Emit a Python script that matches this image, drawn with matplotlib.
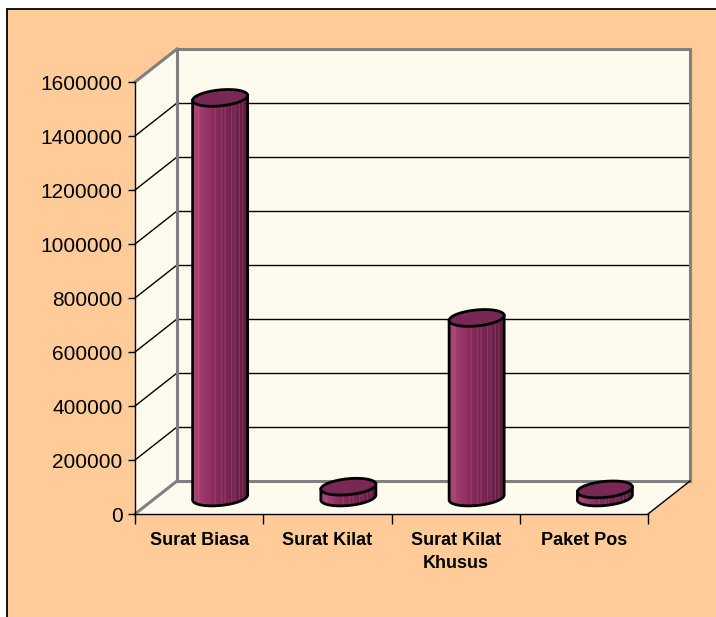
import numpy as np
import matplotlib
matplotlib.use("Agg")
import matplotlib.pyplot as plt
from matplotlib.patches import Polygon, Rectangle
from matplotlib.path import Path

categories = ["Surat Biasa", "Surat Kilat", "Surat Kilat\nKhusus", "Paket Pos"]
values = [1480000, 40000, 665000, 30000]
yticks = [0, 200000, 400000, 600000, 800000, 1000000, 1200000, 1400000, 1600000]

plt.rcParams['font.family'] = ['Liberation Sans', 'DejaVu Sans']

W, H = 716, 617
fig = plt.figure(figsize=(W / 100, H / 100), dpi=100)
fig.patch.set_facecolor('white')

# chart area (peach) with black border
fig.patches.append(Rectangle((7 / W, -0.1), 1.2, (H - 9) / H + 0.1, transform=fig.transFigure,
                             facecolor='#FFCC99', edgecolor='black', lw=1.3, zorder=-5))

ax = fig.add_axes([135 / W, 103 / H, 513 / W, 432 / H])
ax.set_zorder(1)
ax.set_xlim(0, len(categories))
ymax = yticks[-1]
ax.set_ylim(0, ymax)
ax.patch.set_visible(False)

n = len(categories)
DX = 42 / 513 * n
DY = 33 / 432 * ymax

wall = '#FFFAEE'
gray = '#808080'
# back wall
ax.add_patch(Polygon([(DX, DY), (n + DX, DY), (n + DX, ymax + DY), (DX, ymax + DY)],
                     closed=True, facecolor=wall, edgecolor='none', zorder=0.5, clip_on=False))
# side wall
ax.add_patch(Polygon([(0, 0), (DX, DY), (DX, ymax + DY), (0, ymax)],
                     closed=True, facecolor=wall, edgecolor='none', zorder=0.5, clip_on=False))
# floor
ax.add_patch(Polygon([(0, 0), (DX, DY), (n + DX, DY), (n, 0)],
                     closed=True, facecolor=wall, edgecolor='none', zorder=0.5, clip_on=False))

# gridlines
for v in yticks[1:-1]:
    ax.plot([DX, n + DX], [v + DY, v + DY], color='black', lw=1, zorder=1, clip_on=False)
    ax.plot([0, DX], [v, v + DY], color='black', lw=1, zorder=1, clip_on=False)

# wall edges
kw = dict(color=gray, lw=2.2, zorder=1.2, clip_on=False, solid_capstyle='projecting')
ax.plot([DX, n + DX], [ymax + DY, ymax + DY], **kw)
ax.plot([DX, DX], [DY, ymax + DY], **kw)
ax.plot([DX, n + DX], [DY, DY], **kw)
ax.plot([n + DX, n + DX], [DY, ymax + DY], **kw)
ax.plot([0, DX], [ymax, ymax + DY], **kw)
ax.plot([0, DX], [0, DY], **kw)
ax.plot([n, n + DX], [0, DY], color='black', lw=1, zorder=1.2, clip_on=False)

# cylinders
RX = 27.5 / 513 * n
RY = 8 / 432 * ymax
SH = 2.5 / 432 * ymax   # slight perspective tilt of the ellipses
NC = 240
t = np.linspace(0, 1, NC)
c_left = np.array([172, 72, 122]) / 255
c_mid = np.array([140, 44, 94]) / 255
c_right = np.array([96, 28, 62]) / 255
cols = np.where(t[:, None] < 0.35,
                c_left + (c_mid - c_left) * (t[:, None] / 0.35),
                c_mid + (c_right - c_mid) * ((t[:, None] - 0.35) / 0.65))
stripe_pos = [0.10, 0.40, 0.52, 0.58, 0.70, 0.76, 0.84, 0.90]
for sp in stripe_pos:
    k = int(sp * NC)
    cols[k:k + 2] = cols[k:k + 2] * 0.5 + np.array([0.85, 0.55, 0.72]) * 0.5
img = cols[None, :, :]


def ell(cx, cy, a):
    c = np.cos(a)
    return cx + RX * c, cy + RY * np.sin(a) + SH * c


for i, v in enumerate(values):
    cx = i + 0.5 + DX / 2
    base = DY / 2
    top = v + DY / 2
    th = np.linspace(np.pi, 2 * np.pi, 60)
    bx, by = ell(cx, base, th)
    verts = [(cx - RX, top - SH)] + list(zip(bx, by)) + [(cx + RX, top + SH), (cx - RX, top - SH)]
    path = Path(verts)
    im = ax.imshow(img, extent=[cx - RX, cx + RX, base - RY - SH, top + SH], aspect='auto',
                   interpolation='bilinear', zorder=3)
    im.set_clip_path(path, transform=ax.transData)
    xs = [p[0] for p in verts[:-1]]
    ys = [p[1] for p in verts[:-1]]
    ax.plot(xs, ys, color='black', lw=2, zorder=3.5, solid_joinstyle='round')
    ta = np.linspace(0, 2 * np.pi, 120)
    tx, ty = ell(cx, top, ta)
    ax.add_patch(Polygon(np.column_stack([tx, ty]), closed=True, facecolor='#782855',
                         edgecolor='black', lw=2, zorder=4))

ax.set_xlim(0, n)
ax.set_ylim(0, ymax)

# axes
for s in ['top', 'right']:
    ax.spines[s].set_visible(False)
for s in ['left', 'bottom']:
    ax.spines[s].set_color('black')
    ax.spines[s].set_linewidth(1)
    ax.spines[s].set_zorder(2)

ax.set_yticks(yticks)
ax.set_yticklabels([str(v) for v in yticks], fontsize=15)
ax.tick_params(axis='y', direction='out', length=5, width=1, pad=4)

ax.set_xticks(range(n + 1))
ax.set_xticklabels([''] * (n + 1))
ax.tick_params(axis='x', which='major', direction='out', length=7, width=1)
ax.set_xticks([i + 0.5 for i in range(n)], minor=True)
ax.set_xticklabels(categories, minor=True, fontsize=13, fontweight='bold', linespacing=1.45)
ax.tick_params(axis='x', which='minor', length=0, pad=13)

fig.savefig('out.png', dpi=100)
